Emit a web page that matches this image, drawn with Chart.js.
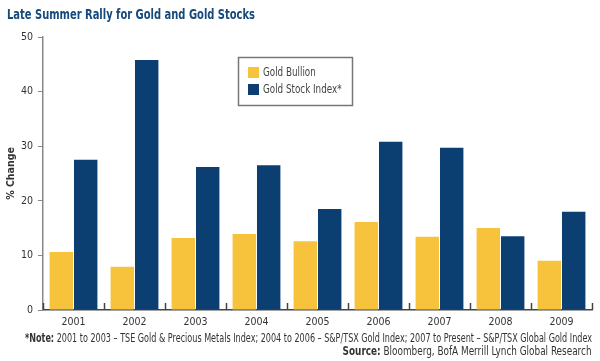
<!DOCTYPE html>
<html>
<head>
<meta charset="utf-8">
<script src="https://cdn.jsdelivr.net/npm/chart.js@4.4.0/dist/chart.umd.min.js"></script>
<style>
  html, body { margin: 0; padding: 0; background: #fff; }
  #wrap { position: relative; width: 600px; height: 361px; overflow: hidden; }
  #chart { position: absolute; left: 0; top: 0; }
  .txt { position: absolute; font-family: "Liberation Sans Narrow", "DejaVu Sans Condensed", sans-serif; white-space: nowrap; line-height: 1; }
  #title { left: 7px; top: 7px; font-size: 14px; font-weight: bold; color: #164a7c; transform-origin: left top; }
  #note { left: 25px; top: 332px; font-size: 12px; color: #333; transform-origin: left top; }
  #source { right: 8px; top: 345px; font-size: 12px; color: #333; transform-origin: right top; }
</style>
</head>
<body>
<div id="wrap">
  <canvas id="chart" width="600" height="361"></canvas>
  <div class="txt" id="title">Late Summer Rally for Gold and Gold Stocks</div>
  <div class="txt" id="note"><b>*Note:</b> 2001 to 2003 – TSE Gold &amp; Precious Metals Index; 2004 to 2006 – S&amp;P/TSX Gold Index; 2007 to Present – S&amp;P/TSX Global Gold Index</div>
  <div class="txt" id="source"><b>Source:</b> Bloomberg, BofA Merrill Lynch Global Research</div>
</div>
<script>
const years = ['2001', '2002', '2003', '2004', '2005', '2006', '2007', '2008', '2009'];
const goldBullion = [10.6, 7.9, 13.2, 13.9, 12.6, 16.1, 13.4, 15.0, 9.0];
const goldStockIndex = [27.5, 45.8, 26.2, 26.5, 18.5, 30.8, 29.7, 13.5, 18.0];
const seriesNames = ['Gold Bullion', 'Gold Stock Index*'];
const yTicks = [0, 10, 20, 30, 40, 50];

const fontFamily = '"Liberation Sans Narrow", "DejaVu Sans Condensed", sans-serif';
const goldColor = '#f7c33c';
const navyColor = '#0b3f72';

// squeeze the html text lines to the width they take in the original
function fitText(id, width) {
  const el = document.getElementById(id);
  const w = el.getBoundingClientRect().width;
  el.style.transform = 'scaleX(' + (width / w) + ')';
}
fitText('title', 248);
fitText('note', 567);
fitText('source', 249);

// little ticks at category boundaries, pointing up from the baseline
const categoryTicks = {
  id: 'categoryTicks',
  afterDatasetsDraw(chart) {
    const ctx = chart.ctx;
    const area = chart.chartArea;
    const step = (area.right - area.left) / years.length;
    ctx.save();
    ctx.strokeStyle = '#444';
    ctx.lineWidth = 1.5;
    for (let i = 0; i <= years.length; i++) {
      const px = Math.round(area.left + i * step) + 0.5;
      ctx.beginPath();
      ctx.moveTo(px, area.bottom);
      ctx.lineTo(px, area.bottom - 7);
      ctx.stroke();
    }
    ctx.restore();
  }
};

// boxed legend inside the plot
const boxLegend = {
  id: 'boxLegend',
  afterDraw(chart) {
    const ctx = chart.ctx;
    const area = chart.chartArea;
    const bx = area.left + 195, by = area.top + 20;
    ctx.save();
    ctx.strokeStyle = '#777';
    ctx.lineWidth = 1.5;
    ctx.strokeRect(bx + 0.5, by + 0.5, 114, 48);
    ctx.font = '12.5px ' + fontFamily;
    ctx.textBaseline = 'middle';
    chart.data.datasets.forEach((ds, i) => {
      const sy = by + 10 + i * 17;
      ctx.fillStyle = ds.backgroundColor;
      ctx.fillRect(bx + 10, sy, 11, 11);
      ctx.fillStyle = '#444';
      ctx.save();
      ctx.translate(bx + 25, sy + 6);
      ctx.scale(0.78, 1);
      ctx.fillText(ds.label, 0, 0);
      ctx.restore();
    });
    ctx.restore();
  }
};

new Chart(document.getElementById('chart'), {
  type: 'bar',
  data: {
    labels: years,
    datasets: [
      { label: seriesNames[0], data: goldBullion, backgroundColor: goldColor },
      { label: seriesNames[1], data: goldStockIndex, backgroundColor: navyColor }
    ]
  },
  options: {
    responsive: false,
    animation: false,
    layout: { padding: { top: 37, right: 8, left: 0, bottom: 0 } },
    categoryPercentage: 0.8,
    barPercentage: 0.96,
    plugins: {
      legend: { display: false },
      tooltip: { enabled: false }
    },
    scales: {
      x: {
        grid: { display: false, drawTicks: false },
        border: { color: '#444', width: 1.5 },
        ticks: { color: '#333', font: { family: fontFamily, size: 10.5 }, padding: 6 },
        afterFit(s) { s.height = 51; }
      },
      y: {
        min: 0,
        max: 50,
        afterBuildTicks(s) { s.ticks = yTicks.map(v => ({ value: v })); },
        grid: { drawOnChartArea: false, drawTicks: true, tickLength: 5, color: '#888', lineWidth: 1 },
        border: { color: '#888', width: 1.5 },
        ticks: { color: '#333', font: { family: fontFamily, size: 10.5 }, padding: 5 },
        title: { display: true, text: '% Change', color: '#333', font: { family: fontFamily, size: 10.5, weight: 'bold' }, padding: { top: 5, bottom: 0 } },
        afterFit(s) { s.width = 43; }
      }
    }
  },
  plugins: [categoryTicks, boxLegend]
});
</script>
</body>
</html>
